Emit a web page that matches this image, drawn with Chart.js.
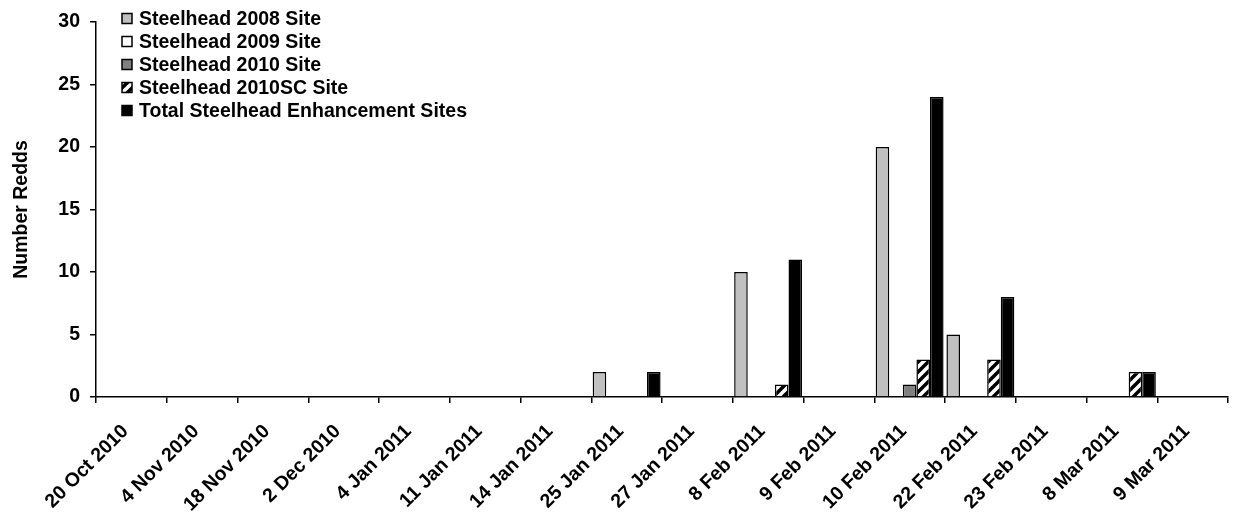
<!DOCTYPE html>
<html>
<head>
<meta charset="utf-8">
<script src="https://cdn.jsdelivr.net/npm/chart.js@4/dist/chart.umd.min.js"></script>
<style>
    body { margin: 0; background: #fff; }
    #wrap { width: 1233px; height: 515px; position: relative; }
</style>
</head>
<body>
<div id="wrap"><canvas id="redds_chart"></canvas></div>
<script>
var labels = ["20 Oct 2010", "4 Nov 2010", "18 Nov 2010", "2 Dec 2010", "4 Jan 2011", "11 Jan 2011",
    "14 Jan 2011", "25 Jan 2011", "27 Jan 2011", "8 Feb 2011", "9 Feb 2011", "10 Feb 2011",
    "22 Feb 2011", "23 Feb 2011", "8 Mar 2011", "9 Mar 2011"];
var site2008 = [0, 0, 0, 0, 0, 0, 0, 2, 0, 10, 0, 20, 5, 0, 0, 0];
var site2009 = [0, 0, 0, 0, 0, 0, 0, 0, 0, 0, 0, 0, 0, 0, 0, 0];
var site2010 = [0, 0, 0, 0, 0, 0, 0, 0, 0, 0, 0, 1, 0, 0, 0, 0];
var site2010SC = [0, 0, 0, 0, 0, 0, 0, 0, 0, 1, 0, 3, 3, 0, 2, 0];
var siteTotal = [0, 0, 0, 0, 0, 0, 0, 2, 0, 11, 0, 24, 8, 0, 2, 0];
var yTicks = [0, 5, 10, 15, 20, 25, 30];

var FONT = "'Liberation Sans', Arial, sans-serif";
var FSIZE = 19.5;

function hatchPattern() {
    var c = document.createElement('canvas');
    c.width = 10; c.height = 10;
    var g = c.getContext('2d');
    g.fillStyle = '#fff';
    g.fillRect(0, 0, 10, 10);
    g.strokeStyle = '#000';
    g.lineWidth = 3.5;
    g.beginPath();
    g.moveTo(0, 10); g.lineTo(10, 0);
    g.moveTo(-3, 3); g.lineTo(3, -3);
    g.moveTo(7, 13); g.lineTo(13, 7);
    g.stroke();
    return g.createPattern(c, 'repeat');
}

// legend drawn inside the plot at the top left, one entry per row
var boxLegend = {
    id: 'boxLegend',
    afterDraw: function (chart) {
        var ctx = chart.ctx;
        ctx.save();
        ctx.font = 'bold ' + FSIZE + 'px ' + FONT;
        ctx.textBaseline = 'middle';
        chart.data.datasets.forEach(function (ds, i) {
            var y = 18.5 + i * 23;
            ctx.fillStyle = ds.backgroundColor;
            ctx.fillRect(122, y - 5, 10, 10);
            ctx.strokeStyle = '#000';
            ctx.lineWidth = 1.5;
            ctx.strokeRect(122, y - 5, 10, 10);
            ctx.fillStyle = '#000';
            ctx.fillText(ds.label, 139, y + 1);
        });
        ctx.restore();
    }
};

function getChartJs() {
    var hatch = hatchPattern();
    var bar = { borderColor: '#000', borderWidth: 1.5, borderSkipped: 'start',
        categoryPercentage: 0.96, barPercentage: 1.0 };
    return {
        type: 'bar',
        data: {
            labels: labels,
            datasets: [
                Object.assign({ label: "Steelhead 2008 Site", data: site2008, backgroundColor: '#c0c0c0' }, bar),
                Object.assign({ label: "Steelhead 2009 Site", data: site2009, backgroundColor: '#ffffff' }, bar),
                Object.assign({ label: "Steelhead 2010 Site", data: site2010, backgroundColor: '#808080' }, bar),
                Object.assign({ label: "Steelhead 2010SC Site", data: site2010SC, backgroundColor: hatch }, bar),
                Object.assign({ label: "Total Steelhead Enhancement Sites", data: siteTotal, backgroundColor: '#000000' }, bar)
            ]
        },
        options: {
            responsive: true,
            maintainAspectRatio: false,
            animation: false,
            layout: { padding: { top: 22, right: 5, bottom: 0, left: 0 } },
            plugins: {
                legend: { display: false },
                tooltip: { enabled: false }
            },
            scales: {
                x: {
                    offset: true,
                    afterFit: function (scale) { scale.height = 118; },
                    border: { display: true, color: '#000', width: 1.5 },
                    grid: { drawOnChartArea: false, drawTicks: true, tickLength: 6, color: '#000', lineWidth: 1.5 },
                    ticks: {
                        autoSkip: false, minRotation: 45, maxRotation: 45, padding: 17, labelOffset: -6,
                        color: '#000', font: { family: FONT, size: FSIZE, weight: 'bold' }
                    }
                },
                y: {
                    min: yTicks[0],
                    max: yTicks[yTicks.length - 1],
                    afterFit: function (scale) { scale.width = 96; },
                    afterBuildTicks: function (scale) {
                        scale.ticks = yTicks.map(function (v) { return { value: v }; });
                    },
                    border: { display: true, color: '#000', width: 1.5 },
                    grid: { drawOnChartArea: false, drawTicks: true, tickLength: 6, color: '#000', lineWidth: 1.5 },
                    ticks: { padding: 10, color: '#000', font: { family: FONT, size: FSIZE, weight: 'bold' } },
                    title: {
                        display: true, text: 'Number Redds', color: '#000',
                        padding: { top: 10, bottom: 0 },
                        font: { family: FONT, size: FSIZE, weight: 'bold' }
                    }
                }
            }
        },
        plugins: [boxLegend]
    };
}

new Chart(document.getElementById("redds_chart").getContext("2d"), getChartJs());
</script>
</body>
</html>
